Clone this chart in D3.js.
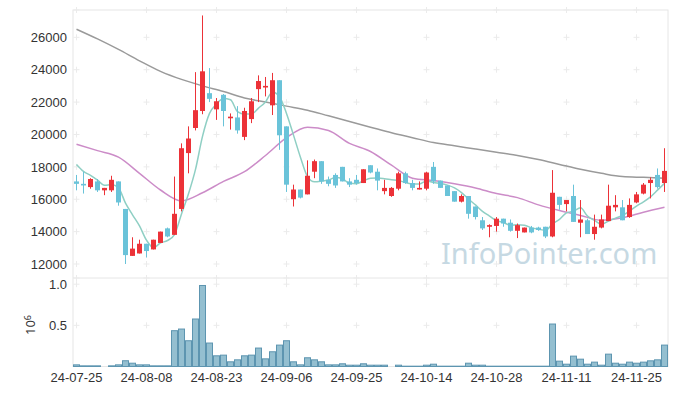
<!DOCTYPE html>
<meta charset="utf-8">
<style>
    body { margin: 0; background: #fff; }
    svg { font-family: "Noto Sans", sans-serif; }
    .axis text { font-size: 13px; fill: #333; }
    .axis path, .axis line { display: none; }
</style>
<body>
<script src="https://cdn.jsdelivr.net/npm/d3@7"></script>
<script>
// trading days shown on the chart
const dates = ["24-07-25","24-07-26","24-07-29","24-07-30","24-07-31","24-08-01","24-08-02","24-08-05","24-08-06","24-08-07",
    "24-08-08","24-08-09","24-08-12","24-08-13","24-08-14","24-08-16","24-08-19","24-08-20","24-08-21","24-08-22",
    "24-08-23","24-08-26","24-08-27","24-08-28","24-08-29","24-08-30","24-09-02","24-09-03","24-09-04","24-09-05",
    "24-09-06","24-09-09","24-09-10","24-09-11","24-09-12","24-09-13","24-09-19","24-09-20","24-09-23","24-09-24",
    "24-09-25","24-09-26","24-09-27","24-09-30","24-10-02","24-10-04","24-10-07","24-10-08","24-10-10","24-10-11",
    "24-10-14","24-10-15","24-10-16","24-10-17","24-10-18","24-10-21","24-10-22","24-10-23","24-10-24","24-10-25",
    "24-10-28","24-10-29","24-10-30","24-10-31","24-11-01","24-11-04","24-11-05","24-11-06","24-11-07","24-11-08",
    "24-11-11","24-11-12","24-11-13","24-11-14","24-11-15","24-11-18","24-11-19","24-11-20","24-11-21","24-11-22",
    "24-11-25","24-11-26","24-11-27","24-11-28","24-11-29"];

const open = [17100,16950,16750,17100,16550,16550,17100,15400,12500,12650,
    13250,12900,13300,14200,13800,15400,18850,20400,21450,22550,
    21550,22450,21000,21050,19850,20950,22800,22900,21800,23350,
    20500,16000,16600,16300,17700,18350,17200,17500,18000,17100,
    17200,17000,18100,17700,16500,16200,16650,17600,17000,16600,
    16650,18000,17150,16850,16500,15850,16200,15550,14700,14300,
    14350,14800,14550,14050,13950,14250,14250,14300,13700,16150,
    15700,16200,14550,14700,13850,14250,14650,15500,15500,14900,
    15800,16350,17000,17500,17000];

const high = [17500,17700,17300,17250,16700,17450,17100,15400,13650,13500,
    13250,13500,14000,14250,17400,19450,20500,23850,27350,24100,
    22250,22500,21300,21750,21650,22250,23650,23550,23800,23350,
    20500,16900,16600,18400,18450,18350,17400,17600,18000,17300,
    17500,17850,18100,17900,17200,16750,17700,17700,17200,17100,
    17700,18300,17150,16850,16500,16300,16200,15550,14900,14450,
    14900,14800,14750,14500,14250,14350,14300,14300,17800,16150,
    15950,16900,15950,14800,15050,15050,16900,16250,15950,16050,
    16450,17000,17350,17900,19150];

const low = [16550,16350,16650,16450,16250,16450,15600,12000,12500,12650,
    12400,12900,13300,13650,13800,15250,17600,20250,21250,22000,
    20900,20500,20300,20050,19650,20700,22000,22350,21200,19050,
    16450,15550,16050,16300,17300,16950,16800,16700,17100,16750,
    16900,17000,17600,16550,16300,16150,16550,16950,16550,16600,
    16550,16950,16700,16200,15850,15800,14800,14750,14100,13650,
    14000,14300,14000,13600,13950,13900,14050,13600,13650,15350,
    15250,14600,13650,13850,13500,14200,14650,15250,14700,14850,
    15750,16300,16050,16650,16450];

const close = [16950,16850,17250,16550,16700,17200,15800,12550,12950,13250,
    12800,13500,14000,13700,15100,19150,19750,21500,23900,22200,
    22050,21450,21100,20250,21450,22050,23300,23000,23350,19950,
    16900,16600,16100,17450,18350,17100,16950,16850,17100,16900,
    17000,17850,17650,17150,16700,16700,17600,17000,16700,16700,
    17650,17100,16700,16200,15850,16200,15100,14900,14200,14400,
    14800,14500,14050,14400,14250,13950,14100,13700,16400,15650,
    15950,14600,14750,13850,14300,14750,15600,15650,14700,15650,
    16300,16900,17200,16750,17750];

const volume = [20000,8000,8000,8000,0,8000,20000,70000,40000,20000,
    20000,8000,8000,8000,435000,455000,313000,577000,984000,285000,
    130000,138000,57000,81000,130000,138000,224000,93000,179000,260000,
    313000,57000,20000,106000,81000,57000,20000,20000,33000,16000,
    16000,33000,16000,16000,16000,0,16000,4000,4000,4000,
    16000,28000,4000,4000,4000,4000,40000,16000,16000,4000,
    4000,4000,4000,4000,4000,4000,4000,4000,516000,65000,
    28000,126000,89000,28000,53000,16000,150000,40000,28000,53000,
    40000,53000,69000,81000,260000];

// closes before the first shown day (only used for the 5-day average)
const priorCloses = [19000, 18500, 18000, 18300];

// longer moving averages every 3rd trading day
const maIdx = d3.range(0, 85, 3);
const ma20 = [19400,19000,18600,17600,16570,15900,16400,17100,17700,18700,19800,20450,20250,19450,18950,
    18100,17300,17150,16950,16700,16350,16100,15650,15300,15000,14700,14850,15200,15500];
const ma60 = [26500,25900,25250,24550,23900,23400,23000,22650,22250,22000,21750,21500,21150,20800,20450,
    20100,19800,19500,19300,19100,18900,18700,18450,18150,17850,17600,17400,17350,17300];

const priceTicks = [12000,14000,16000,18000,20000,22000,24000,26000];
const volTicks = [500000, 1000000];
const xTickIdx = d3.range(0, 85, 10);

const width = 677, height = 396;
const plotLeft = 73, plotRight = 668, plotTop = 10, mainBottom = 278, volBottom = 366.5;

const upColor = "#ec3238", downColor = "#6ac3d9";

const svg = d3.select("body").append("svg")
    .attr("width", width)
    .attr("height", height);

const x = d3.scaleBand().domain(dates).range([plotLeft, plotRight]).padding(0);
const cx = d => x(d) + x.bandwidth() / 2;
const y = d3.scaleLinear().domain([11135, 27687]).range([mainBottom, plotTop]);
const yv = d3.scaleLinear().domain([0, 1075000]).range([volBottom, mainBottom]);

// borders
svg.append("rect")
    .attr("x", plotLeft).attr("y", plotTop)
    .attr("width", plotRight - plotLeft).attr("height", volBottom - plotTop)
    .attr("fill", "none").attr("stroke", "#e6e6e6");
svg.append("line")
    .attr("x1", plotLeft).attr("x2", plotRight)
    .attr("y1", mainBottom).attr("y2", mainBottom)
    .attr("stroke", "#e6e6e6");

// little + marks at grid crossings
const gridYs = [plotTop, mainBottom].concat(priceTicks.map(y), volTicks.map(yv));
const crosses = svg.append("g").attr("stroke", "#ebebeb");
xTickIdx.forEach(i => {
    const px = cx(dates[i]);
    gridYs.forEach(py => {
        crosses.append("line").attr("x1", px - 3).attr("x2", px + 3).attr("y1", py).attr("y2", py);
        crosses.append("line").attr("x1", px).attr("x2", px).attr("y1", py - 3).attr("y2", py + 3);
    });
});

// watermark
svg.append("text")
    .attr("x", 441).attr("y", 264)
    .style("font-size", "29px")
    .attr("fill", "#c6d9e3")
    .text("InfoPointer.com");

// moving averages
const allClose = priorCloses.concat(close);
const ma5 = close.map((c, i) => d3.mean(allClose.slice(i, i + 5)));

const line = d3.line().curve(d3.curveMonotoneX);
svg.append("path")
    .attr("d", line(maIdx.map((i, k) => [cx(dates[i]), y(ma60[k])])))
    .attr("fill", "none").attr("stroke", "#9a9a9a").attr("stroke-width", 1.5);
svg.append("path")
    .attr("d", line(maIdx.map((i, k) => [cx(dates[i]), y(ma20[k])])))
    .attr("fill", "none").attr("stroke", "#cc8cc8").attr("stroke-width", 1.5);
svg.append("path")
    .attr("d", line(ma5.map((v, i) => [cx(dates[i]), y(v)])))
    .attr("fill", "none").attr("stroke", "#8fcfc4").attr("stroke-width", 1.5);

// candles
const candles = svg.append("g").selectAll("g")
    .data(dates.map((d, i) => ({d: d, o: open[i], h: high[i], l: low[i], c: close[i]})))
    .enter().append("g");

candles.append("line")
    .attr("x1", d => cx(d.d)).attr("x2", d => cx(d.d))
    .attr("y1", d => y(d.h)).attr("y2", d => y(d.l))
    .attr("stroke", d => d.c >= d.o ? upColor : downColor)
    .attr("stroke-width", 1);

candles.append("rect")
    .attr("x", d => cx(d.d) - 2.5)
    .attr("width", 5)
    .attr("y", d => y(Math.max(d.o, d.c)))
    .attr("height", d => Math.max(1.2, Math.abs(y(d.o) - y(d.c))))
    .attr("fill", d => d.c >= d.o ? upColor : downColor);

// volume
svg.append("g").selectAll("rect")
    .data(dates.map((d, i) => ({d: d, v: volume[i]})).filter(d => d.v > 0))
    .enter().append("rect")
    .attr("x", d => x(d.d) + 0.5)
    .attr("width", x.bandwidth() - 1)
    .attr("y", d => yv(d.v))
    .attr("height", d => volBottom - yv(d.v))
    .attr("fill", "#94bfd0")
    .attr("stroke", "#5d95b0")
    .attr("stroke-width", 1);

// axes
svg.append("g")
    .attr("class", "axis")
    .attr("transform", "translate(" + plotLeft + ",0)")
    .call(d3.axisLeft(y).tickValues(priceTicks).tickSize(0).tickPadding(6).tickFormat(d3.format("d")));

svg.append("g")
    .attr("class", "axis")
    .attr("transform", "translate(" + plotLeft + ",0)")
    .call(d3.axisLeft(yv).tickValues(volTicks).tickSize(0).tickPadding(6).tickFormat(d => (d / 1e6).toFixed(1)));

svg.append("g")
    .attr("class", "axis")
    .attr("transform", "translate(0," + volBottom + ")")
    .call(d3.axisBottom(x).tickValues(xTickIdx.map(i => dates[i])).tickSize(0).tickPadding(6));

const vlabel = svg.append("text")
    .attr("transform", "translate(35,325) rotate(-90)")
    .attr("text-anchor", "middle")
    .style("font-size", "13px")
    .attr("fill", "#333");
vlabel.append("tspan").text("10");
vlabel.append("tspan").attr("dy", "-0.45em").style("font-size", "9px").text("6");
</script>
</body>
